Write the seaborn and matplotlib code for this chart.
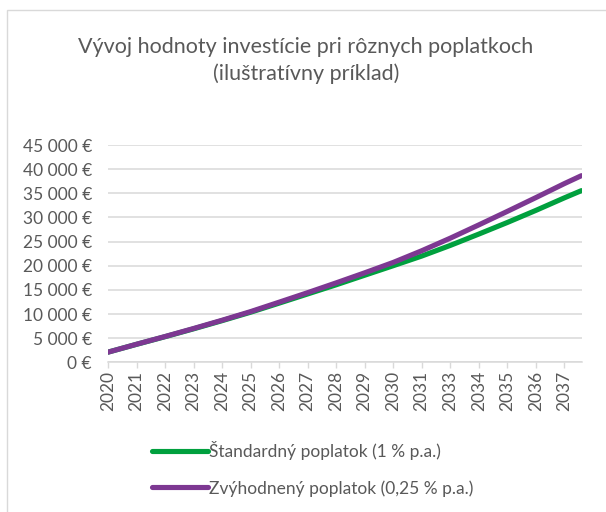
import numpy as np
import pandas as pd
import matplotlib
matplotlib.use("Agg")
import matplotlib.pyplot as plt
import seaborn as sns
from matplotlib.patches import Rectangle
from matplotlib.ticker import FuncFormatter

# year labels shown on the category axis (2032 is skipped in the original)
year_labels = ['2020', '2021', '2022', '2023', '2024', '2025', '2026', '2027', '2028',
               '2029', '2030', '2031', '2033', '2034', '2035', '2036', '2037']
# position along the category axis (last point runs past the 2037 label)
period = [0, 1, 2, 3, 4, 5, 6, 7, 8, 9, 10, 11, 12, 13, 14, 15, 16, 16.6]

standard = [2100, 3720, 5300, 6930, 8620, 10370, 12250, 14150, 16050,
            18030, 20000, 22000, 24200, 26550, 28950, 31450, 34050, 35550]
discount = [2100, 3740, 5340, 7000, 8710, 10500, 12450, 14420, 16450,
            18530, 20680, 23100, 25700, 28450, 31250, 34100, 37000, 38650]

name_std = 'Štandardný poplatok (1 % p.a.)'
name_disc = 'Zvýhodnený poplatok (0,25 % p.a.)'

df = pd.DataFrame({
    'period': period * 2,
    'value': standard + discount,
    'series': [name_std] * len(period) + [name_disc] * len(period),
})

sns.set_theme(style='white')
plt.rcParams['font.family'] = ['Lato', 'DejaVu Sans']
text_col = '#595959'
grid_col = '#D9D9D9'

fig = plt.figure(figsize=(6.06, 5.12), dpi=100)
ax = fig.add_axes([108 / 606, 1 - 362.3 / 512, 474 / 606, (362.3 - 145) / 512])

sns.lineplot(data=df, x='period', y='value', hue='series', ax=ax,
             palette={name_std: '#00A03E', name_disc: '#7D3892'},
             linewidth=3.7, legend=True)
for ln in ax.get_lines():
    ln.set_solid_capstyle('round')

ax.set_xlim(0, 16.62)
ax.set_ylim(0, 45000)
ax.set_yticks(np.arange(0, 45001, 5000))
ax.yaxis.set_major_formatter(FuncFormatter(lambda v, p: f'{int(v):,} €'.replace(',', ' ')))
ax.set_xticks(range(len(year_labels)))
ax.set_xticklabels(year_labels, rotation=90)
ax.set_xlabel('')
ax.set_ylabel('')

ax.grid(axis='y', color=grid_col, linewidth=1.1)
ax.set_axisbelow(True)
for s in ['top', 'right', 'left']:
    ax.spines[s].set_visible(False)
ax.spines['bottom'].set_color(grid_col)
ax.spines['bottom'].set_linewidth(1.1)
ax.tick_params(axis='x', colors=text_col, labelsize=12.5, length=4, width=1, color=grid_col,
               direction='out', bottom=True, pad=2)
ax.tick_params(axis='y', colors=text_col, labelsize=12.5, length=0, pad=11.5)

handles, labels = ax.get_legend_handles_labels()
ax.legend_.remove()
leg = fig.legend(handles, labels, loc='upper left', bbox_to_anchor=(152 / 606, 1 - 441 / 512),
                 frameon=False, fontsize=12.5, handlelength=3.2, handletextpad=0.1,
                 labelspacing=1.15, borderpad=0, borderaxespad=0)
for t in leg.get_texts():
    t.set_color(text_col)
for h in leg.get_lines():
    h.set_linewidth(3.7)
    h.set_solid_capstyle('round')

fig.text(306 / 606, 1 - 47 / 512, 'Vývoj hodnoty investície pri rôznych poplatkoch', ha='center',
         va='center', fontsize=15.5, color=text_col)
fig.text(306 / 606, 1 - 74 / 512, '(iluštratívny príklad)', ha='center',
         va='center', fontsize=15.5, color=text_col)

# chart-area border (right and bottom edges fall outside the image)
fig.patches.append(Rectangle((7 / 606, -20 / 512), 640 / 606, 522 / 512, transform=fig.transFigure,
                             fill=False, edgecolor=grid_col, linewidth=1))

fig.savefig('out.png', dpi=100)
